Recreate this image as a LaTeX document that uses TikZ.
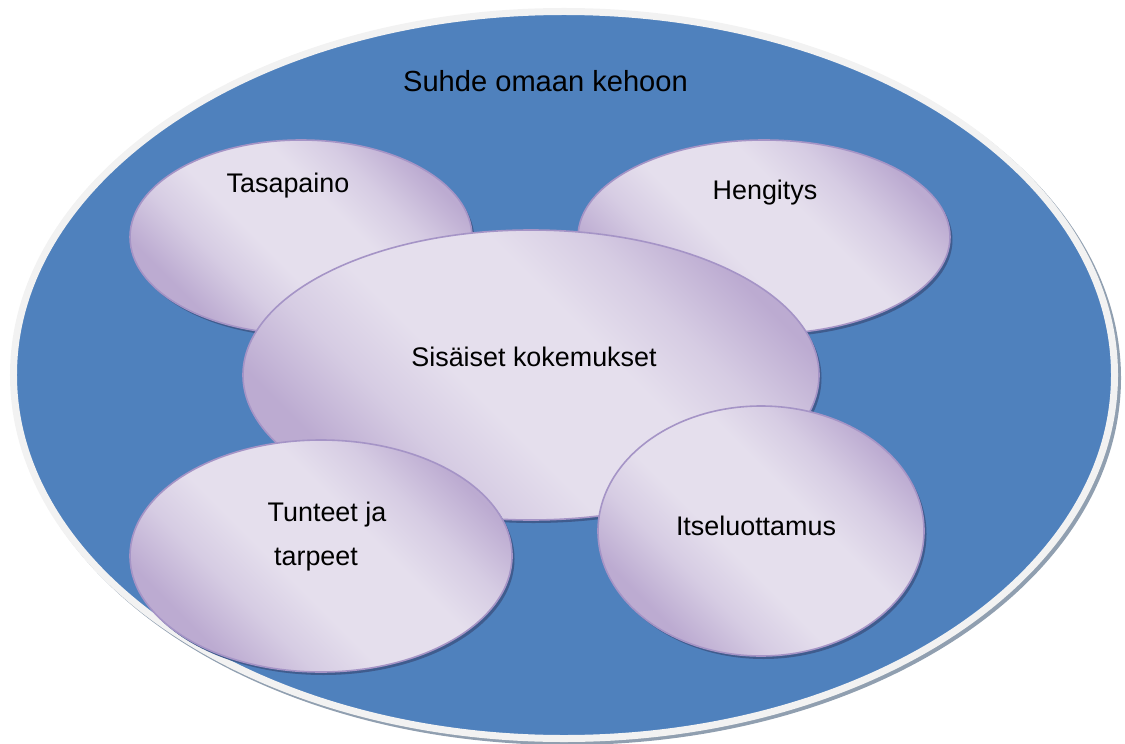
\documentclass[tikz,border=0pt]{standalone}
\usepackage{fontspec}
\setmainfont{Liberation Sans}
\usetikzlibrary{shapes.geometric,shadows}
\definecolor{bblue}{HTML}{4F81BD}
\definecolor{rim}{HTML}{F2F2F2}
\definecolor{rimshadow}{HTML}{909FB0}
\definecolor{lavlight}{HTML}{E5DFED}
\definecolor{lavmid}{HTML}{D6CCE3}
\definecolor{lavdark}{HTML}{BCABD1}
\definecolor{lavedge}{HTML}{A594C6}
\definecolor{bshadow}{HTML}{3F5C8E}
\pgfdeclareverticalshading{lavshade}{100bp}{color(0bp)=(lavdark); color(27bp)=(lavdark); color(36bp)=(lavmid); color(44bp)=(lavlight); color(58bp)=(lavlight); color(66bp)=(lavmid); color(75bp)=(lavdark); color(100bp)=(lavdark)}
\begin{document}
\begin{tikzpicture}[x=1bp,y=-1bp,
  outerbubble/.style={ellipse, inner sep=0pt, fill=bblue, draw=rim, line width=7bp,
    general shadow={fill=rimshadow, draw=rimshadow, line width=7bp, shadow xshift=3bp, shadow yshift=-3bp}},
  bubble/.style={ellipse, inner sep=0pt, draw=lavedge, line width=1.6bp,
    shade, shading=lavshade, shading angle=-45,
    general shadow={fill=bshadow, shadow xshift=2.5bp, shadow yshift=-3bp}},
  lbl/.style={anchor=base, font=\fontsize{27}{32}\selectfont, text=black, inner sep=0pt},
  titlelbl/.style={anchor=base, font=\fontsize{29.2}{34}\selectfont, text=black, inner sep=0pt}]
\useasboundingbox (0,0) rectangle (1125,744);
\node[outerbubble, minimum width=1101bp, minimum height=727bp] (outer) at (564,375) {};
\node[bubble, minimum width=342bp, minimum height=194bp] (tas) at (301,237) {};
\node[bubble, minimum width=372bp, minimum height=194bp] (hen) at (764,237) {};
\node[bubble, minimum width=576bp, minimum height=290bp] (sis) at (531,375) {};
\node[bubble, minimum width=382bp, minimum height=232bp] (tun) at (321,556) {};
\node[bubble, minimum width=326bp, minimum height=250bp] (its) at (761,531) {};
\node[titlelbl] (ttitle) at (545.5,92) {Suhde omaan kehoon};
\node[lbl] (ttas) at (288,192) {Tasapaino};
\node[lbl] (then) at (765,199) {Hengitys};
\node[lbl] (tsis) at (534,366) {Sisäiset kokemukset};
\node[lbl] (ttun1) at (327,521) {Tunteet ja};
\node[lbl] (ttun2) at (316,565) {tarpeet};
\node[lbl] (tits) at (756,535) {Itseluottamus};
\end{tikzpicture}
\end{document}
